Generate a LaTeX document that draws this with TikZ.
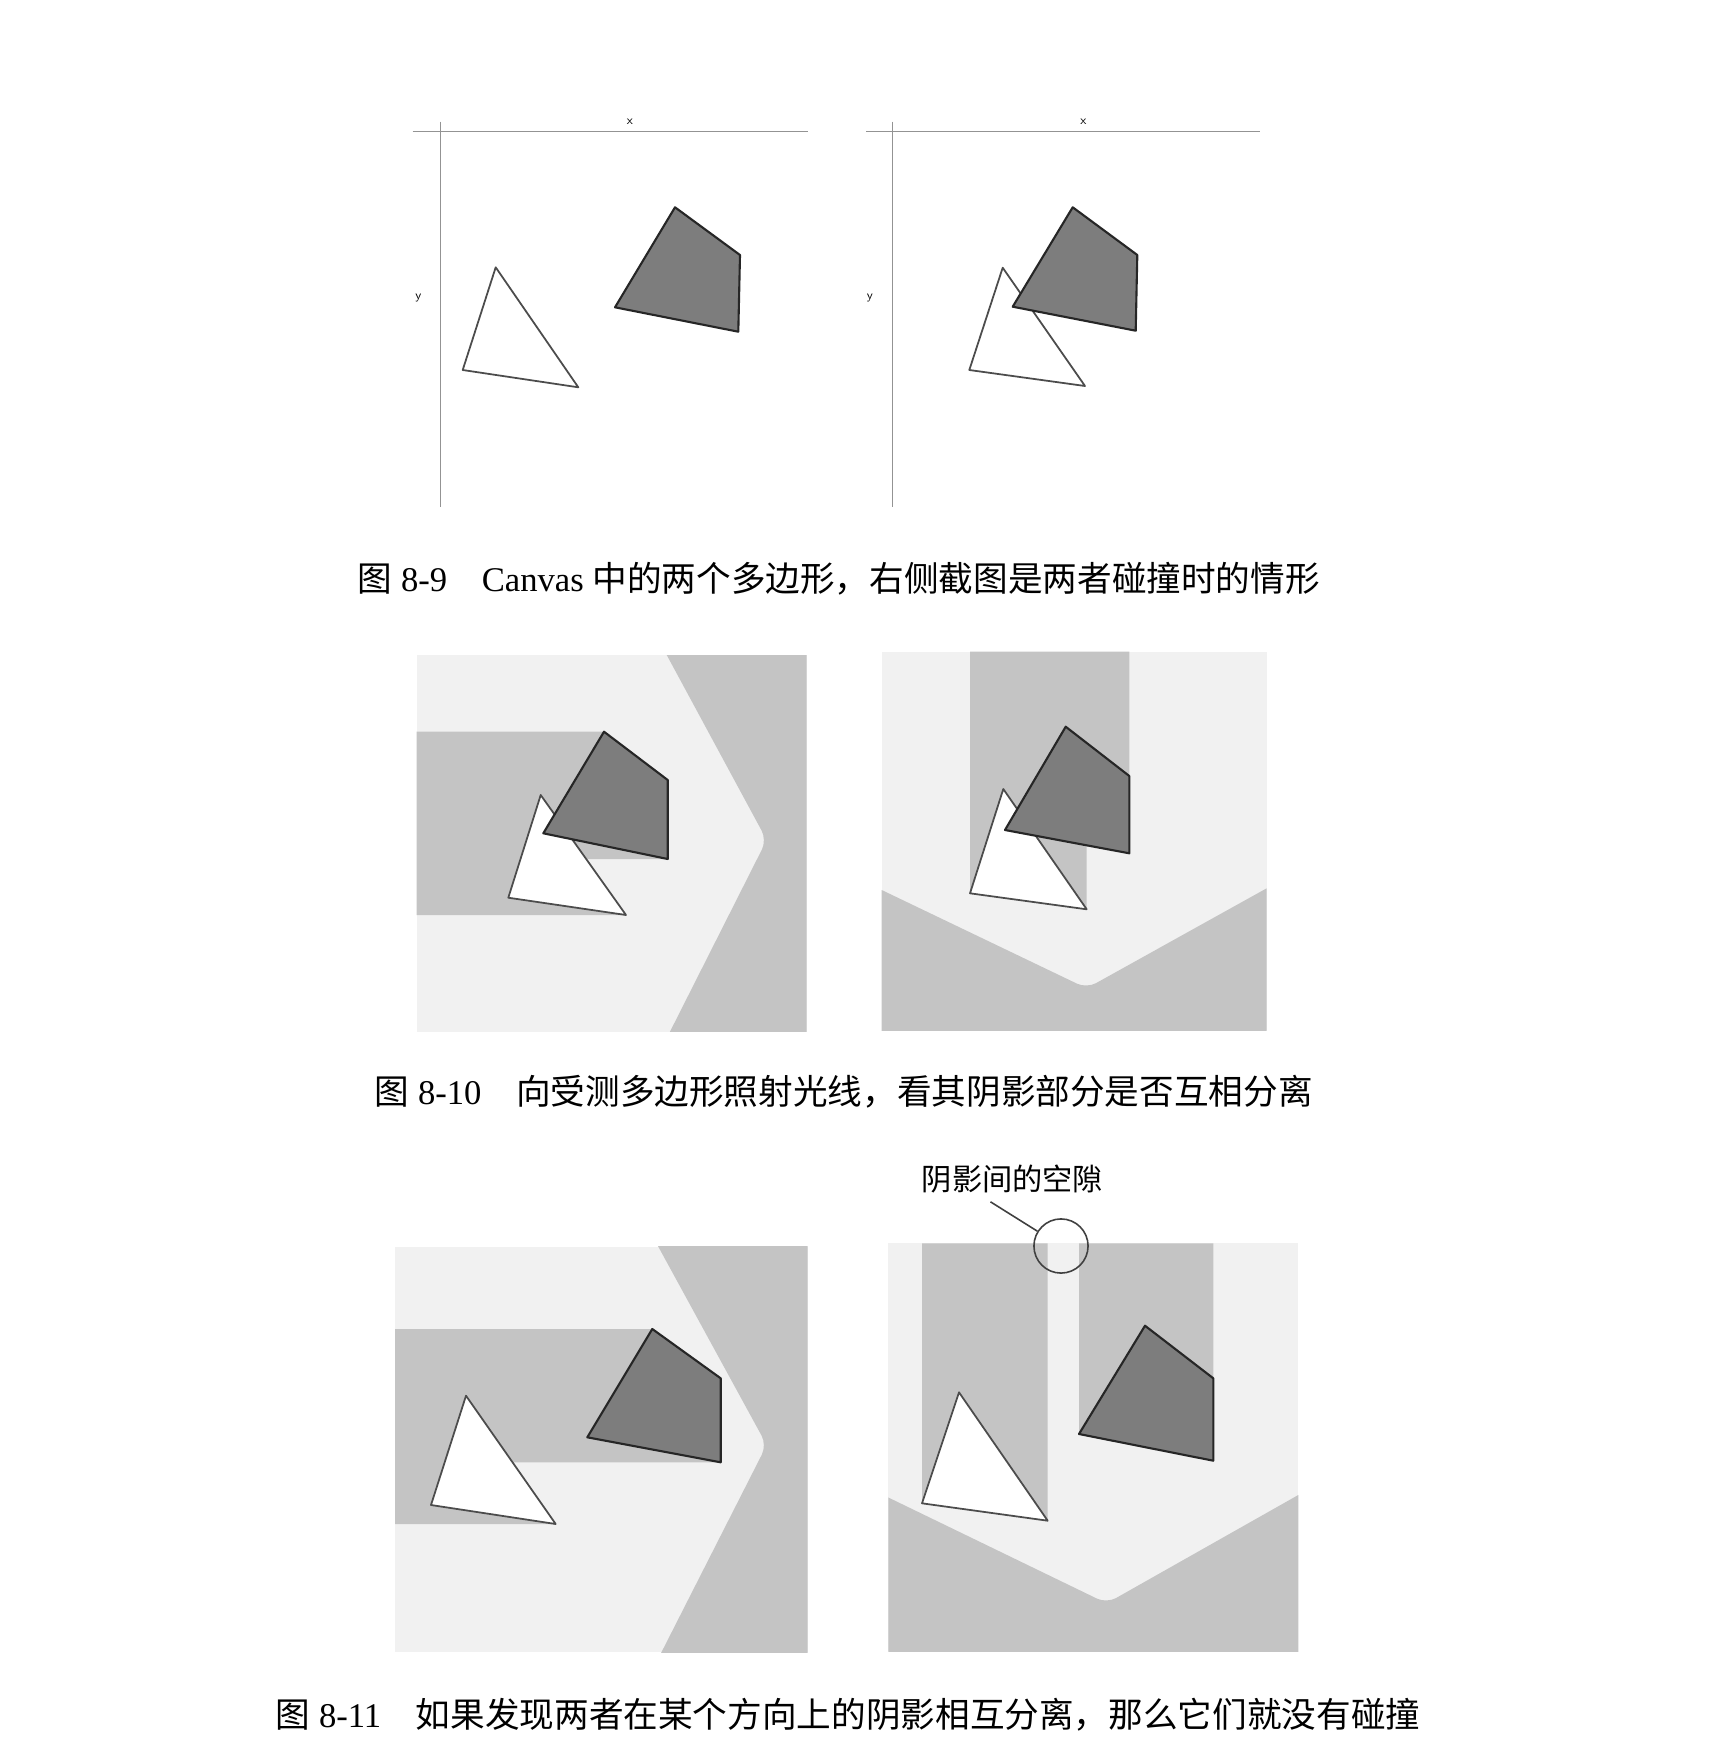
\documentclass[tikz,border=0pt]{standalone}
\usepackage{fontspec}
\setmainfont{Liberation Serif}
\newfontfamily\cjk{Noto Sans CJK SC}
\usepackage{tikz}
\usetikzlibrary{shapes,positioning}
\definecolor{paper}{gray}{0.945}
\definecolor{shadegray}{gray}{0.77}
\definecolor{quadgray}{gray}{0.49}

\begin{document}
\begin{tikzpicture}[x=0.01cm,y=-0.01cm]

\tikzstyle{caption} = [anchor=west, inner sep=0pt, font=\fontsize{9.85}{11}\selectfont]
\tikzstyle{axislabel} = [inner sep=0pt, font=\sffamily\fontsize{3.5}{4}\selectfont]
\tikzstyle{axisline} = [draw=gray!85, line width=0.4pt]
\tikzstyle{tri} = [draw=black!70, fill=white, line width=0.5pt, line join=round]
\tikzstyle{quad} = [draw=black!85, fill=quadgray, line width=0.6pt, line join=round]
\tikzstyle{shadowband} = [fill=shadegray]
\tikzstyle{panel} = [fill=paper]

\fill[white] (0,0) rectangle (1710,1760);
\useasboundingbox (0,0) rectangle (1710,1760);

%Canvas: top left

\draw[axisline] (412.7,131.7) -- (808.3,131.7);
\draw[axisline] (440.5,121.7) -- (440.5,506.7);
\path (630,121.7) node (x_left) [axislabel] {x};
\path (418.3,298.3) node (y_left) [axislabel] {y};

\draw[tri] (495.7,267.3) -- (462.7,370) -- (578.3,387.3) -- cycle;
\draw[quad] (675,207.3) -- (740,255) -- (738.3,331.7) -- (615,307.3) -- cycle;

%Canvas: top right, the two polygons collide

\draw[axisline] (866,131.7) -- (1260,131.7);
\draw[axisline] (892.5,121.7) -- (892.5,506.7);
\path (1083.3,121.7) node (x_right) [axislabel] {x};
\path (870,298.3) node (y_right) [axislabel] {y};

\draw[tri] (1002.7,267.7) -- (969.3,370) -- (1085,386) -- cycle;
\draw[quad] (1072.7,207.3) -- (1137.3,255) -- (1135.7,330.7) -- (1012.7,306.7) -- cycle;

\path (357,579) node (cap_9) [caption] {{\cjk 图} 8-9\quad Canvas {\cjk 中的两个多边形，右侧截图是两者碰撞时的情形}};

%Shadows: middle left, light from the right

\coordinate (t3a) at (540.7,795);
\coordinate (t3b) at (508.3,897.7);
\coordinate (t3c) at (626,915);
\coordinate (q3a) at (604,731.7);
\coordinate (q3b) at (667.7,780);
\coordinate (q3c) at (667.7,859);
\coordinate (q3d) at (543.3,833.3);

\path[panel] (416.7,655) rectangle (806.7,1031.7);
\begin{scope}
\clip (416.7,655) rectangle (806.7,1031.7);
\fill[shadegray, rounded corners=3pt] (637,600) -- (766.7,840) -- (645.6,1080) -- (900,1080) -- (900,600) -- cycle;
\end{scope}
\path[shadowband] (416.7,731.7) -- (q3a) -- (q3b) -- (q3c) -- (586.2,859) -- (t3c) -- (416.7,915) -- cycle;

\draw[tri] (t3a) -- (t3b) -- (t3c) -- cycle;
\draw[quad] (q3a) -- (q3b) -- (q3c) -- (q3d) -- cycle;

%Shadows: middle right, light from below

\coordinate (t4a) at (1003.3,789);
\coordinate (t4b) at (970,893.3);
\coordinate (t4c) at (1086.7,909.3);
\coordinate (q4a) at (1065.7,726.7);
\coordinate (q4b) at (1129.3,776);
\coordinate (q4c) at (1129.3,853.3);
\coordinate (q4d) at (1005,830);

\path[panel] (881.7,651.7) rectangle (1266.7,1030);
\begin{scope}
\clip (881.7,651.7) rectangle (1266.7,1030);
\fill[shadegray, rounded corners=3pt] (840,870) -- (1086.7,988.3) -- (1310,864.2) -- (1310,1080) -- (840,1080) -- cycle;
\end{scope}
\path[shadowband] (970,651.7) -- (t4b) -- (t4c) -- (1086.7,845.3) -- (q4c) -- (1129.3,651.7) -- cycle;

\draw[tri] (t4a) -- (t4b) -- (t4c) -- cycle;
\draw[quad] (q4a) -- (q4b) -- (q4c) -- (q4d) -- cycle;

\path (374,1092) node (cap_10) [caption] {{\cjk 图} 8-10\quad {\cjk 向受测多边形照射光线，看其阴影部分是否互相分离}};

%Separated shadows: bottom left

\coordinate (t5a) at (466,1395.7);
\coordinate (t5b) at (431,1505);
\coordinate (t5c) at (555.7,1524);
\coordinate (q5a) at (652.3,1329);
\coordinate (q5b) at (720.7,1378.3);
\coordinate (q5c) at (720.7,1462.3);
\coordinate (q5d) at (587.3,1437.3);

\path[panel] (395,1246.7) rectangle (807.5,1652);
\begin{scope}
\clip (395,1246.7) rectangle (807.5,1652);
\fill[shadegray, rounded corners=3pt] (632.8,1200) -- (766.7,1445) -- (637.2,1700) -- (860,1700) -- (860,1200) -- cycle;
\end{scope}
\path[shadowband] (395,1329) -- (q5a) -- (q5b) -- (q5c) -- (512.6,1462.3) -- (t5c) -- (395,1524) -- cycle;

\draw[tri] (t5a) -- (t5b) -- (t5c) -- cycle;
\draw[quad] (q5a) -- (q5b) -- (q5c) -- (q5d) -- cycle;

%Separated shadows: bottom right

\coordinate (t6a) at (959,1392.3);
\coordinate (t6b) at (922,1503.3);
\coordinate (t6c) at (1047.7,1520.7);
\coordinate (q6a) at (1145,1325.7);
\coordinate (q6b) at (1213.3,1378.3);
\coordinate (q6c) at (1213.3,1460.7);
\coordinate (q6d) at (1079,1434);

\path[panel] (888.3,1243.3) rectangle (1298.3,1651);
\begin{scope}
\clip (888.3,1243.3) rectangle (1298.3,1651);
\fill[shadegray, rounded corners=3pt] (850,1478.9) -- (1106.7,1603.3) -- (1340,1471.4) -- (1340,1700) -- (850,1700) -- cycle;
\end{scope}
\path[shadowband] (922,1243.3) -- (t6b) -- (t6c) -- (1047.7,1243.3) -- cycle;
\path[shadowband] (1079,1243.3) -- (q6d) -- (q6c) -- (1213.3,1243.3) -- cycle;

\draw[tri] (t6a) -- (t6b) -- (t6c) -- cycle;
\draw[quad] (q6a) -- (q6b) -- (q6c) -- (q6d) -- cycle;

\path (1012.5,1179) node (gap_label) [inner sep=0pt, font=\cjk\fontsize{8.6}{10}\selectfont] {阴影间的空隙};
\path (1061,1246) node (gap_circle) [circle, draw=black!75, line width=0.45pt, minimum size=15.4pt, inner sep=0pt] {};
\path (gap_label.south)+(-22,8) coordinate (gap_tail);
\draw[black!75, line width=0.45pt] (gap_tail) -- (gap_circle);

\path (275,1715) node (cap_11) [caption] {{\cjk 图} 8-11\quad {\cjk 如果发现两者在某个方向上的阴影相互分离，那么它们就没有碰撞}};

\end{tikzpicture}
\end{document}
